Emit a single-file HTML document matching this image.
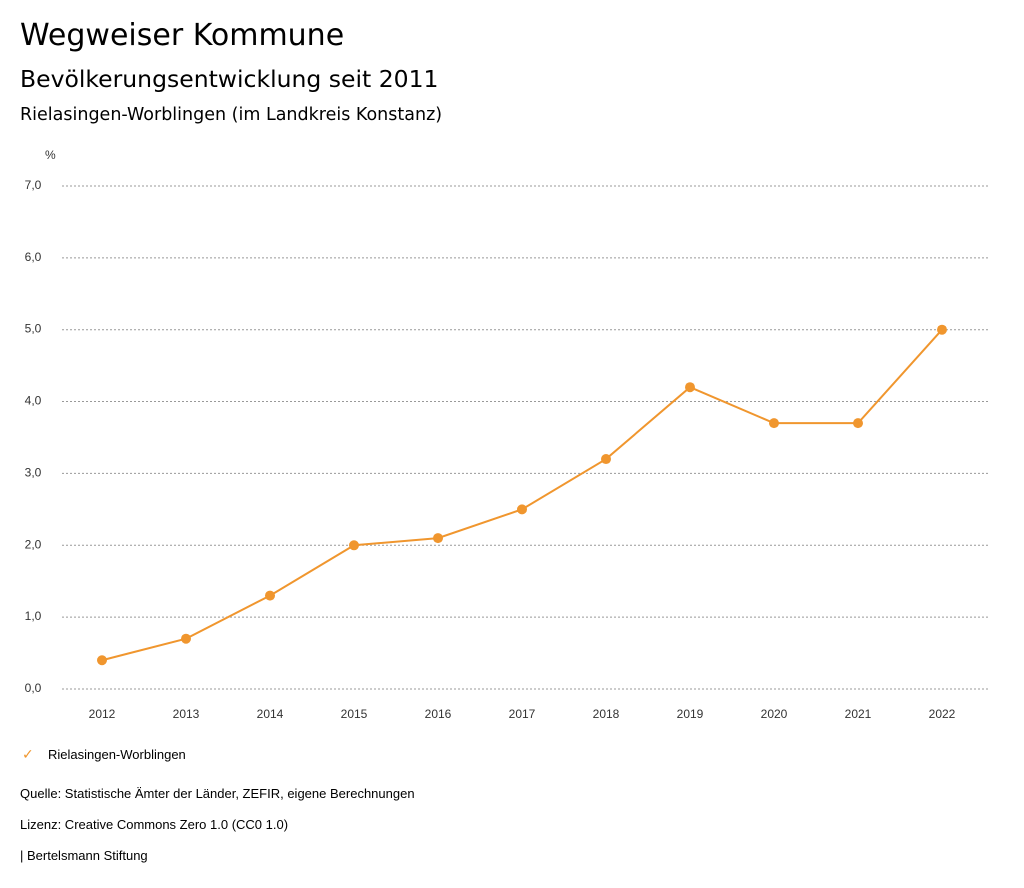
<!DOCTYPE html>
<html><head><meta charset="utf-8"><style>
body{margin:0;background:#fff;width:1024px;height:888px;overflow:hidden;font-family:"Liberation Sans","DejaVu Sans",sans-serif;color:#000}
.t{position:absolute;white-space:nowrap}
.d{font-family:"DejaVu Sans","Liberation Sans",sans-serif}
</style></head><body>
<div class="t d" style="left:20px;top:18px;font-size:30px">Wegweiser Kommune</div>
<div class="t d" style="left:20px;top:65px;font-size:23.5px">Bevölkerungsentwicklung seit 2011</div>
<div class="t d" style="left:20px;top:105px;font-size:17.5px">Rielasingen-Worblingen (im Landkreis Konstanz)</div>
<svg id="chart" width="1024" height="888" style="position:absolute;left:0;top:0" font-family="Liberation Sans, DejaVu Sans, sans-serif"></svg>
<div class="t" style="left:22px;top:746px;font-size:13px"><span style="color:#f0962e;font-size:14px;display:inline-block;width:26px">✓</span>Rielasingen-Worblingen</div>
<div class="t" style="left:20px;top:786px;font-size:13px">Quelle: Statistische Ämter der Länder, ZEFIR, eigene Berechnungen</div>
<div class="t" style="left:20px;top:817px;font-size:13px">Lizenz: Creative Commons Zero 1.0 (CC0 1.0)</div>
<div class="t" style="left:20px;top:848px;font-size:13px">| Bertelsmann Stiftung</div>
<script>
const years=[2012,2013,2014,2015,2016,2017,2018,2019,2020,2021,2022];
const values=[0.4,0.7,1.3,2.0,2.1,2.5,3.2,4.2,3.7,3.7,5.0];
const yTicks=[0,1,2,3,4,5,6,7];
const svg=document.getElementById('chart');
const NS='http://www.w3.org/2000/svg';
const x=i=>102+i*84;
const y=v=>689-v*71.86;
function mk(tag,attrs){const e=document.createElementNS(NS,tag);for(const k in attrs)e.setAttribute(k,attrs[k]);svg.appendChild(e);return e;}
let u=mk('text',{x:45,y:159,'font-size':12,fill:'#333'});u.textContent='%';


yTicks.forEach(t=>{
 const l=mk('line',{x1:62,x2:990,y1:y(t),y2:y(t),stroke:'#999','stroke-dasharray':'2,2','stroke-width':1});
 
 
 const tx=mk('text',{x:33,y:y(t)+3,'font-size':12,fill:'#333','text-anchor':'middle'});
 tx.textContent=t.toFixed(1).replace('.',',');
 
 
});
years.forEach((yr,i)=>{
 const tx=mk('text',{x:x(i),y:718,'font-size':12,fill:'#333','text-anchor':'middle'});
 tx.textContent=yr;
 
 
});
const p=mk('polyline',{points:values.map((v,i)=>x(i)+','+y(v)).join(' '),fill:'none',stroke:'#f0962e','stroke-width':2});


values.forEach((v,i)=>{
 const c=mk('circle',{cx:x(i),cy:y(v),r:5,fill:'#f0962e'});
 
 
});
</script>
</body></html>
